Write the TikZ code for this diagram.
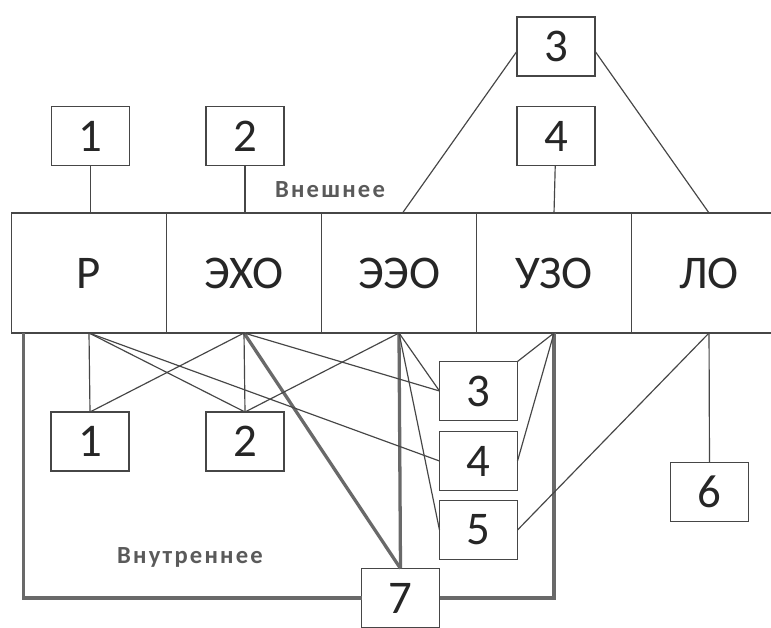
\documentclass[tikz,border=0pt]{standalone}
\usepackage{fontspec}
\setmainfont{Carlito}
\newfontfamily\spacedfont[LetterSpace=9]{Carlito}
\usepackage{tikz}
\usetikzlibrary{positioning}
\definecolor{linegray}{RGB}{70,70,70}
\definecolor{thickgray}{RGB}{105,105,105}
\definecolor{textgray}{RGB}{90,90,90}
\tikzset{
  box/.style = {
    draw = linegray, line width = 1pt, fill = white,
    minimum width = 2.34cm, minimum height = 1.77cm,
    inner sep = 0, outer sep = 0,
    font = \fontsize{40}{40}\selectfont, text = black!85,
  },
  cell/.style = {
    draw = linegray, line width = 1pt,
    minimum width = 4.65cm, minimum height = 3.6cm,
    inner sep = 0, outer sep = 0,
    font = \fontsize{40}{40}\selectfont, text = black!85,
  },
  link/.style = {draw = linegray, line width = 1pt},
  thicklink/.style = {draw = thickgray, line width = 2.8pt},
  side/.style = {
    font = \spacedfont\bfseries\fontsize{21}{21}\selectfont,
    text = textgray,
  },
}
\begin{document}
\begin{tikzpicture}[x = 0.03cm, y = -0.03cm]
  \clip (0,0) rectangle (771,628);
  \fill[white] (0,0) rectangle (771,628);
  % Strip of cells
  \node[cell] (r) at (89,273) {Р};
  \node[cell, right = 0pt of r] (eho) {ЭХО};
  \node[cell, right = 0pt of eho] (eeo) {ЭЭО};
  \node[cell, right = 0pt of eeo] (uzo) {УЗО};
  \node[cell, right = 0pt of uzo] (lo) {ЛО};
  % Outer boxes
  \node[box] (t1) at (90.5,136) {1};
  \node[box] (t2) at (245,136) {2};
  \node[box] (t3) at (556,46.5) {3};
  \node[box] (t4) at (556,136) {4};
  \node[side] (outer) at (330,190) {Внешнее};
  \draw[link] (t1) -- (t1 |- r.north);
  \draw[link] (t2) -- (t2 |- eho.north);
  \draw[link] (t4) -- (uzo.north);
  \draw[link] ([yshift=-4pt]t3.west) -- ([xshift=3pt]eeo.north);
  \draw[link] ([yshift=-4pt]t3.east) -- (lo.north);
  % Inner boxes
  \node[box] (in1) at (90,441.5) {1};
  \node[box] (in2) at (245,441.5) {2};
  \node[box] (in3) at (478.5,391) {3};
  \node[box] (in4) at (478.5,461) {4};
  \node[box] (in5) at (478.5,530) {5};
  \node[box] (in6) at (709.5,492) {6};
  \node[box] (in7) at (400.5,598) {7};
  \node[side] (inner) at (190,557) {Внутреннее};
  \coordinate (corner) at ([xshift=10pt]r.south west);
  % Thick loop
  \draw[thicklink] (corner) |- (in7.west);
  \draw[thicklink] (uzo.south) |- (in7.east);
  \draw[thicklink] (eho.south) -- (in7.north);
  \draw[thicklink] (eeo.south) -- (in7.north);
  % Links from the strip
  \draw[link] (r.south) -- (in1.north);
  \draw[link] (r.south) -- (in2.north);
  \draw[link] (r.south) -- (in4.west);
  \draw[link] (eho.south) -- (in1.north);
  \draw[link] (eho.south) -- (in2.north);
  \draw[link] (eho.south) -- (in3.west);
  \draw[link] (eeo.south) -- (in2.north);
  \draw[link] (eeo.south) -- (in3.west);
  \draw[link] (eeo.south) -- (in5.west);
  \draw[link] (uzo.south) -- (in3.north east);
  \draw[link] (uzo.south) -- (in4.east);
  \draw[link] (lo.south) -- (in6.north);
  \draw[link] (lo.south) -- (in5.east);
\end{tikzpicture}
\end{document}
